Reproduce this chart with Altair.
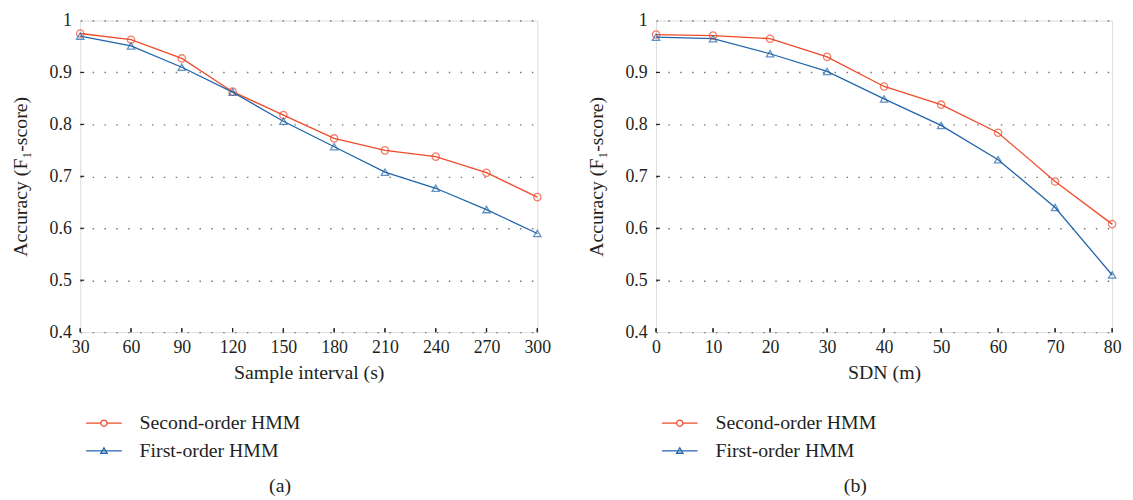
import altair as alt
import pandas as pd

# ---------------- data ----------------
series_names = ["Second-order HMM", "First-order HMM"]

interval_s = [30, 60, 90, 120, 150, 180, 210, 240, 270, 300]
second_a = [0.975, 0.963, 0.927, 0.863, 0.818, 0.773, 0.750, 0.738, 0.707, 0.660]
first_a = [0.970, 0.951, 0.910, 0.862, 0.806, 0.757, 0.708, 0.677, 0.636, 0.590]

sdn_m = [0, 10, 20, 30, 40, 50, 60, 70, 80]
second_b = [0.973, 0.971, 0.965, 0.930, 0.873, 0.838, 0.784, 0.690, 0.608]
first_b = [0.968, 0.965, 0.936, 0.902, 0.849, 0.798, 0.732, 0.640, 0.510]

y_ticks = [0.4, 0.5, 0.6, 0.7, 0.8, 0.9, 1.0]
y_inner_ticks = [0.5, 0.6, 0.7, 0.8, 0.9]

# ---------------- style ----------------
RED = "#EE4B2B"
BLUE = "#2266AA"
FONT = "Liberation Serif"
TXT = "#231F20"
H = 315

# legend symbols: line segment + open marker (custom paths)
CIRCLE_PATH = ("M-4.5,0L-0.78,0M0.78,0L4.5,0"
               "M-0.78,0A0.78,0.78,0,1,1,0.78,0A0.78,0.78,0,1,1,-0.78,0")
TRI_PATH = "M-4.5,0L4.5,0M0,-0.8L0.8,0.6L-0.8,0.6Z"


def panel(xs, s2, s1, xtitle, caption, width, dx):
    n = len(xs)
    df = pd.DataFrame({
        "x": xs + xs,
        "acc": s2 + s1,
        "series": [series_names[0]] * n + [series_names[1]] * n,
    })
    ticks_df = pd.DataFrame({"v": y_inner_ticks})

    xscale = alt.Scale(domain=[min(xs), max(xs)], nice=False, zero=False)
    yscale = alt.Scale(domain=[0.4, 1.0], nice=False, zero=False)

    xaxis = alt.Axis(values=xs, title=xtitle, grid=False, ticks=False, domain=False,
                     labelFont=FONT, labelFontSize=18, labelColor=TXT, labelPadding=7,
                     labelFlush=False, titleFont=FONT, titleFontSize=20,
                     titleFontWeight="normal", titleColor=TXT, titlePadding=6)
    yaxis = alt.Axis(values=y_ticks, format=".1~f", title="Accuracy (F\u2081-score)",
                     grid=True, gridDash=[1.5, 10.5], gridColor="#777", gridWidth=1.4,
                     ticks=False, domain=False, labelFont=FONT, labelFontSize=18,
                     labelColor=TXT, labelPadding=9, labelFlush=False,
                     titleFont=FONT, titleFontSize=20, titleFontWeight="normal",
                     titleColor=TXT, titlePadding=19)

    base = alt.Chart(df).encode(
        x=alt.X("x:Q", scale=xscale, axis=xaxis),
        y=alt.Y("acc:Q", scale=yscale, axis=yaxis),
    )
    s2_base = base.transform_filter(alt.datum.series == series_names[0])
    s1_base = base.transform_filter(alt.datum.series == series_names[1])

    line2 = s2_base.mark_line(strokeWidth=1.3, color=RED)
    line1 = s1_base.mark_line(strokeWidth=1.3, color=BLUE)
    circles = s2_base.mark_point(shape="circle", filled=False, size=55,
                                 strokeWidth=1.3, color=RED)
    tris = s1_base.mark_point(shape="triangle-up", filled=False, size=55,
                              strokeWidth=1.3, color=BLUE)

    leg = alt.Legend(title=None, orient="none", legendX=14, legendY=397,
                     direction="vertical", labelFont=FONT, labelFontSize=20,
                     labelColor=TXT, labelOffset=26, symbolSize=64,
                     symbolStrokeWidth=1.3, symbolOpacity=1, rowPadding=8, padding=0,
                     labelLimit=400)
    legend_layer = base.mark_point(filled=False, opacity=0).encode(
        color=alt.Color("series:N", sort=series_names,
                        scale=alt.Scale(domain=series_names, range=[RED, BLUE]),
                        legend=leg),
        shape=alt.Shape("series:N", sort=series_names,
                        scale=alt.Scale(domain=series_names,
                                        range=[CIRCLE_PATH, TRI_PATH]),
                        legend=leg),
    )

    xticks = alt.Chart(df).mark_rule(color="#222", strokeWidth=1.2).encode(
        x=alt.X("x:Q", scale=xscale), y=alt.value(H), y2=alt.value(H - 4))
    yticks = alt.Chart(ticks_df).mark_rule(color="#222", strokeWidth=1.2).encode(
        y=alt.Y("v:Q", scale=yscale), x=alt.value(0), x2=alt.value(4))

    return alt.layer(line2, line1, circles, tris, legend_layer, xticks, yticks).properties(
        width=width, height=H,
        title=alt.TitleParams(caption, orient="bottom", anchor="middle", dx=dx,
                              font=FONT, fontSize=20, fontWeight="normal",
                              color=TXT, offset=16),
    )


left = panel(interval_s, second_a, first_a, "Sample interval (s)", "(a)", 462, -29)
right = panel(sdn_m, second_b, first_b, "SDN (m)", "(b)", 461, -29)

chart = alt.hconcat(left, right, spacing=35).resolve_scale(
    color="independent", shape="independent"
).resolve_legend(
    color="independent", shape="independent"
).properties(
    padding={"left": 2, "top": 0, "right": 0, "bottom": 0}
).configure_view(stroke="#222", strokeWidth=1.3).configure(background="white")

chart.save("out.html", embed_options={"renderer": "svg", "actions": False})
